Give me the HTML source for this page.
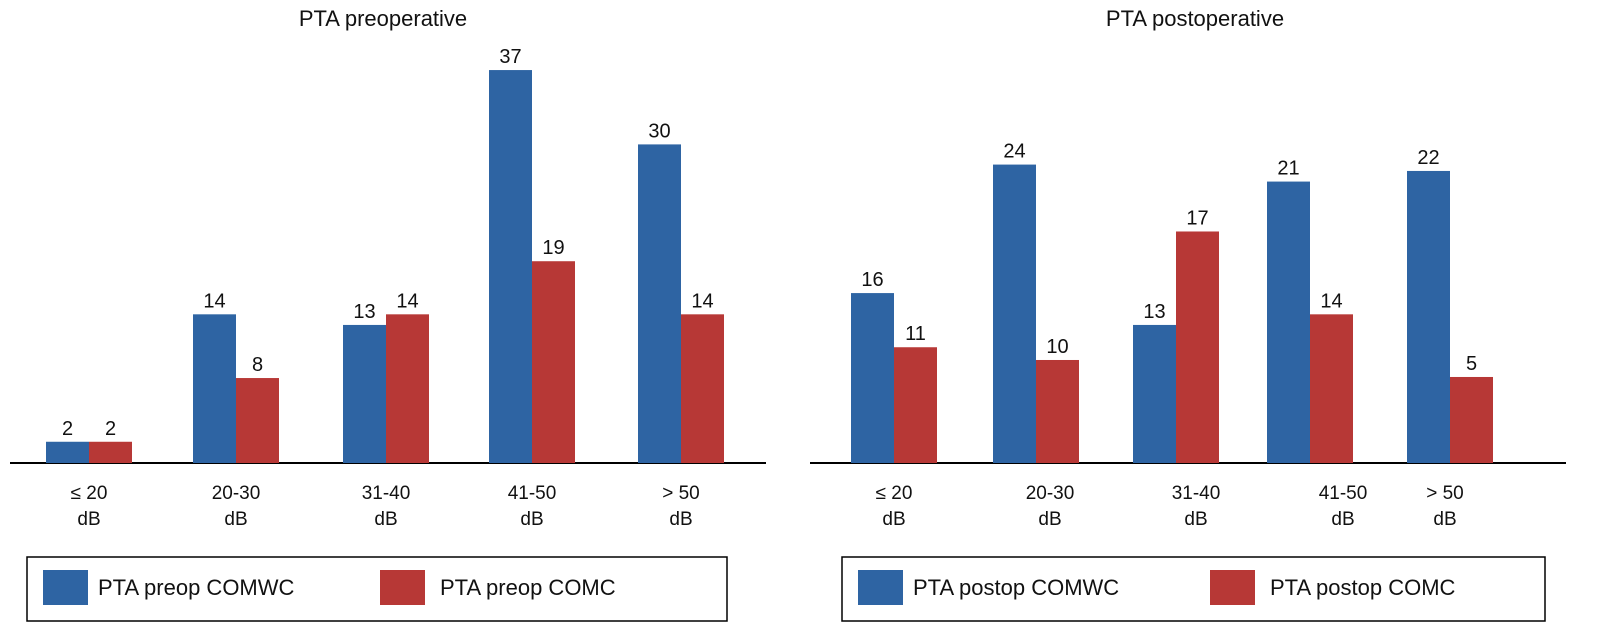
<!DOCTYPE html>
<html><head><meta charset="utf-8">
<style>
html,body{margin:0;padding:0;background:#fff;}
svg{display:block;font-family:"Liberation Sans",Arial,sans-serif;}
</style></head>
<body>
<svg id="chart" width="1602" height="633" viewBox="0 0 1602 633"></svg>
<script>
// Data
const categories = ["≤ 20", "20-30", "31-40", "41-50", "> 50"];
const preBlue = [2, 14, 13, 37, 30];
const preRed = [2, 8, 14, 19, 14];
const preBlueLabels = ["2", "14", "13", "37", "30"];
const preRedLabels = ["2", "8", "14", "19", "14"];
// Postoperative bar heights as drawn in the picture (printed labels differ)
const postBlue = [16, 28.1, 13, 26.5, 27.5];
const postRed = [10.9, 9.7, 21.8, 14, 8.1];
const postBlueLabels = ["16", "24", "13", "21", "22"];
const postRedLabels = ["11", "10", "17", "14", "5"];

const NS = "http://www.w3.org/2000/svg";
const svg = document.getElementById("chart");
const BLUE = "#2e64a3", RED = "#b73836";
const baseY = 463, pxPerUnit = 10.62, barW = 43;
function yScale(v){ return baseY - v * pxPerUnit; }
function mk(tag, attrs, parent){
  const e = document.createElementNS(NS, tag);
  for (const k in attrs) e.setAttribute(k, attrs[k]);
  (parent || svg).appendChild(e);
  return e;
}
function txt(x, y, s, size, anchor, parent){
  const t = mk("text", {x:x, y:y, "font-size":size, "text-anchor":anchor || "middle", fill:"#111"}, parent);
  t.textContent = s;
  return t;
}

function panel(opts){
  const g = mk("g", {});
  
  
  const title = txt(opts.titleX, 26, opts.title, 22, "middle", g);
  
  
  const axis = mk("line", {x1:opts.axisX1, x2:opts.axisX2, y1:baseY, y2:baseY, stroke:"#000", "stroke-width":2}, g);
  
  
  categories.forEach((c, i) => {
    const bx = opts.groupX[i];
    const rx = opts.redX[i];
    const b = mk("rect", {x:bx, y:yScale(opts.blue[i]), width:barW, height:opts.blue[i]*pxPerUnit, fill:BLUE}, g);
    
    
    const r = mk("rect", {x:rx, y:yScale(opts.red[i]), width:barW, height:opts.red[i]*pxPerUnit, fill:RED}, g);
    
    
    const bl = txt(bx + barW/2, yScale(opts.blue[i]) - 7, opts.blueLabels[i], 20, "middle", g);
    
    
    const rl = txt(rx + barW/2, yScale(opts.red[i]) - 7, opts.redLabels[i], 20, "middle", g);
    
    
    const cx = opts.catX[i];
    const l1 = txt(cx, 499, c, 19, "middle", g);
    
    
    const l2 = txt(cx, 525, "dB", 19, "middle", g);
    
    
  });
  const lg = mk("g", {}, g);
  
  
  mk("rect", {x:opts.legX, y:557, width:opts.legW, height:64, fill:"none", stroke:"#000", "stroke-width":1.5}, lg);
  const s1 = mk("rect", {x:opts.legX+16, y:570, width:45, height:35, fill:BLUE}, lg);
  
  
  const t1 = txt(opts.legX+71, 595, opts.leg1, 22, "start", lg);
  
  
  const s2 = mk("rect", {x:opts.legX+opts.leg2Off, y:570, width:45, height:35, fill:RED}, lg);
  
  
  const t2 = txt(opts.legX+opts.leg2Off+60, 595, opts.leg2, 22, "start", lg);
  
  
}

panel({name:"preoperative-panel", title:"PTA preoperative", titleX:383, axisX1:10, axisX2:766,
  groupX:[46,193,343,489,638], redX:[89,236,386,532,681], catX:[89,236,386,532,681],
  blue:preBlue, red:preRed, blueLabels:preBlueLabels, redLabels:preRedLabels,
  legX:27, legW:700, leg1:"PTA preop COMWC", leg2:"PTA preop COMC", leg2Off:353});
panel({name:"postoperative-panel", title:"PTA postoperative", titleX:1195, axisX1:810, axisX2:1566,
  groupX:[851,993,1133,1267,1407], redX:[894,1036,1176,1310,1450], catX:[894,1050,1196,1343,1445],
  blue:postBlue, red:postRed, blueLabels:postBlueLabels, redLabels:postRedLabels,
  legX:842, legW:703, leg1:"PTA postop COMWC", leg2:"PTA postop COMC", leg2Off:368});
</script>
</body></html>
